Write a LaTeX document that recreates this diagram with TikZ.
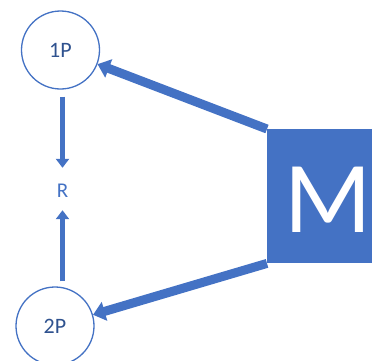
\documentclass[tikz,border=0pt]{standalone}
\usepackage{fontspec}
\setmainfont{Carlito}
\usetikzlibrary{arrows.meta}
\definecolor{accent}{HTML}{4472C4}
\definecolor{deepblue}{HTML}{2F528F}
\begin{document}
\begin{tikzpicture}[x=1pt,y=-1pt,
  party/.style={circle,draw=accent,line width=1.3pt,fill=white,minimum size=78pt,inner sep=0pt,
    font=\fontsize{22}{22}\selectfont,text=deepblue},
  flow/.style={draw=accent,line width=5pt,-{Triangle[width=13pt,length=9pt]}},
  bigflow/.style={draw=accent,line width=9pt,-{Triangle[width=19pt,length=12pt]}}]
\useasboundingbox (0,0) rectangle (372,360);
\node[party] (p1) at (60.5,50) {1P};
\node[party] (p2) at (55,326) {2P};
\node[text=accent,font=\fontsize{21}{21}\selectfont,inner sep=0pt,minimum size=16pt] (r) at (62.5,191) {R};
\fill[accent] (267,129) rectangle (372,263);
\node[inner sep=0pt,minimum width=105pt,minimum height=134pt,anchor=north west] (m) at (267,129) {};
\node[text=white,font=\fontsize{102}{102}\selectfont,inner sep=0pt] (mlabel) at (328,200) {M};
\draw[flow,shorten <=7pt,shorten >=15pt] (r |- p1.south) -- (r);
\draw[flow,shorten <=5pt,shorten >=11pt] (r |- p2.north) -- (r);
\draw[bigflow] (m.north west) -- (p1);
\draw[bigflow] (m.south west) -- (p2);
\end{tikzpicture}
\end{document}
